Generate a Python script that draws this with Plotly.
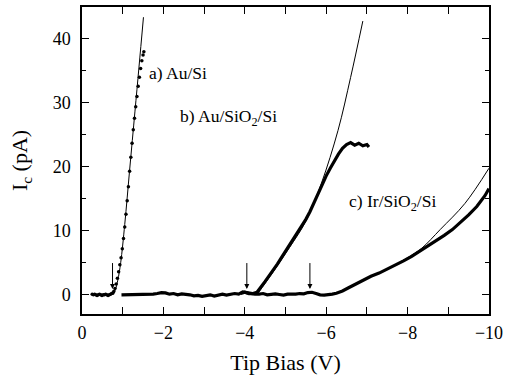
import plotly.graph_objects as go

# ---- data ----
a_x = [-0.25, -0.28, -0.31, -0.34, -0.37, -0.40, -0.43, -0.46, -0.49, -0.52, -0.55, -0.58,
       -0.61, -0.64, -0.67, -0.70, -0.73, -0.76, -0.78, -0.81, -0.84, -0.87, -0.90, -0.93,
       -0.96, -0.99, -1.02, -1.05, -1.08, -1.11, -1.14, -1.17, -1.20, -1.23, -1.26, -1.29,
       -1.32, -1.35, -1.38, -1.41, -1.44, -1.47, -1.50, -1.52]
a_y = [0.1, 0.0, 0.1, 0.0, -0.1, 0.0, 0.1, 0.0, -0.1, 0.0, 0.0, 0.1,
       0.0, -0.1, 0.0, 0.1, 0.2, 0.3, 0.5, 1.0, 1.7, 2.6, 3.6, 4.7,
       5.8, 7.2, 8.8, 10.6, 12.6, 14.7, 16.9, 19.3, 21.5, 23.7, 25.8, 27.6,
       29.4, 31.0, 32.6, 34.0, 35.4, 36.6, 37.5, 38.0]

fit_a_x = [-0.76, -0.82, -0.88, -0.95, -1.05, -1.17, -1.30, -1.40, -1.51]
fit_a_y = [0.0, 0.8, 2.3, 5.0, 11.0, 19.5, 28.6, 35.6, 43.4]

b_x = [-3.90, -4.00, -4.10, -4.20, -4.30, -4.40, -4.50, -4.60, -4.70, -4.80, -4.90, -5.00,
       -5.10, -5.20, -5.30, -5.40, -5.50, -5.60, -5.70, -5.80, -5.90, -6.00, -6.10, -6.20,
       -6.30, -6.40, -6.50, -6.60, -6.70, -6.80, -6.90, -7.00, -7.05]
b_y = [0.2, 0.4, 0.2, 0.2, 0.4, 1.2, 2.1, 3.0, 3.8, 4.8, 5.8, 6.8,
       7.6, 8.6, 9.7, 10.8, 11.8, 13.0, 14.4, 15.9, 17.4, 18.6, 19.8, 21.0,
       22.0, 22.9, 23.5, 23.8, 23.4, 23.7, 23.3, 23.5, 23.1]

fit_b_x = [-4.30, -4.70, -5.10, -5.50, -5.88, -6.29, -6.60, -6.90]
fit_b_y = [0.0, 3.6, 7.4, 11.5, 17.4, 25.7, 34.0, 42.8]

c_x = [-0.97, -1.05, -1.15, -1.25, -1.35, -1.45, -1.55, -1.65, -1.75, -1.85, -1.95, -2.05,
       -2.15, -2.25, -2.35, -2.45, -2.55, -2.65, -2.75, -2.85, -2.95, -3.05, -3.15, -3.25,
       -3.35, -3.45, -3.55, -3.65, -3.75, -3.85, -3.95, -4.05, -4.15, -4.25, -4.35, -4.45,
       -4.55, -4.65, -4.75, -4.85, -4.95, -5.05, -5.15, -5.25, -5.35, -5.45, -5.55, -5.65,
       -5.75, -5.85, -5.95, -6.05, -6.15, -6.25, -6.40, -6.55, -6.70, -6.90, -7.10, -7.30,
       -7.50, -7.70, -7.90, -8.10, -8.30, -8.50, -8.70, -8.90, -9.10, -9.30, -9.50, -9.70,
       -9.90, -10.0]
c_y = [0.0, 0.0, 0.05, 0.0, 0.05, 0.0, 0.1, 0.05, 0.1, 0.2, 0.35, 0.3,
       0.1, 0.2, 0.0, 0.15, 0.1, 0.0, -0.15, -0.1, -0.25, -0.1, 0.0, -0.2,
       -0.05, 0.1, -0.05, 0.1, 0.2, 0.1, 0.45, 0.35, 0.2, 0.1, 0.1, 0.2,
       0.0, 0.1, 0.15, 0.05, -0.05, 0.1, 0.05, 0.1, 0.2, 0.15, 0.35, 0.4,
       0.2, 0.0, -0.05, 0.0, 0.1, 0.25, 0.6, 1.1, 1.6, 2.3, 2.9, 3.4,
       4.0, 4.6, 5.3, 6.0, 6.8, 7.6, 8.4, 9.3, 10.2, 11.3, 12.5, 13.8,
       15.5, 16.6]

fit_c_x = [-7.50, -8.00, -8.35, -8.80, -9.41, -10.0]
fit_c_y = [4.0, 5.8, 7.3, 10.2, 14.3, 19.8]

arrow_x = [-0.75, -4.05, -5.60]

x_tickvals = [0, -1, -2, -3, -4, -5, -6, -7, -8, -9, -10]
x_ticktext = ["0", "", "−2", "", "−4", "", "−6", "", "−8", "", "−10"]
y_tickvals = [0, 10, 20, 30, 40]
y_ticktext = ["0", "10", "20", "30", "40"]

labels = ["a) Au/Si", "b) Au/SiO<sub>2</sub>/Si", "c) Ir/SiO<sub>2</sub>/Si"]
label_x = [-1.60, -2.35, -6.50]
label_y = [34.7, 27.7, 14.5]

FONT = "Liberation Serif"

fig = go.Figure()
fig.add_trace(go.Scatter(x=fit_a_x, y=fit_a_y, mode="lines", line=dict(color="black", width=1, shape="spline")))
fig.add_trace(go.Scatter(x=fit_b_x, y=fit_b_y, mode="lines", line=dict(color="black", width=1, shape="spline")))
fig.add_trace(go.Scatter(x=fit_c_x, y=fit_c_y, mode="lines", line=dict(color="black", width=1, shape="spline")))
fig.add_trace(go.Scatter(x=a_x, y=a_y, mode="markers", marker=dict(color="black", size=3.5)))
fig.add_trace(go.Scatter(x=c_x, y=c_y, mode="lines", line=dict(color="black", width=3.2)))
fig.add_trace(go.Scatter(x=b_x, y=b_y, mode="lines", line=dict(color="black", width=3.2)))

for ax_ in arrow_x:
    fig.add_annotation(x=ax_, y=0.9, ax=ax_, ay=5.2, xref="x", yref="y", axref="x", ayref="y",
                       showarrow=True, arrowhead=2, arrowsize=1, arrowwidth=1, arrowcolor="black", text="")

for t, lx, ly in zip(labels, label_x, label_y):
    fig.add_annotation(x=lx, y=ly, text=t, showarrow=False, xanchor="left", yanchor="middle",
                       font=dict(family=FONT, size=17.5, color="black"))

axis_common = dict(showline=True, linecolor="black", linewidth=1.5, mirror="allticks",
                   ticks="inside", tickcolor="black", tickwidth=1.2, showgrid=False, zeroline=False,
                   tickfont=dict(family=FONT, size=18, color="black"))

fig.update_xaxes(range=[0, -10], tickvals=x_tickvals, ticktext=x_ticktext, ticklen=7,
                 ticklabelstandoff=2,
                 title=dict(text="Tip Bias (V)", font=dict(family=FONT, size=22, color="black"), standoff=12),
                 **axis_common)
fig.update_yaxes(range=[-3, 45], tickvals=y_tickvals, ticktext=y_ticktext, ticklen=7,
                 ticklabelstandoff=6,
                 minor=dict(tickvals=[5, 15, 25, 35], ticklen=4, ticks="inside", tickcolor="black", tickwidth=1.2),
                 title=dict(text="I<sub>c</sub> (pA)", font=dict(family=FONT, size=22, color="black"), standoff=19),
                 **axis_common)

fig.update_layout(width=511, height=380, showlegend=False, plot_bgcolor="white", paper_bgcolor="white",
                  margin=dict(l=82, r=22, t=5, b=66))

fig.write_html("out.html", config={"displayModeBar": False},
               post_script="document.body.style.margin='0';")
